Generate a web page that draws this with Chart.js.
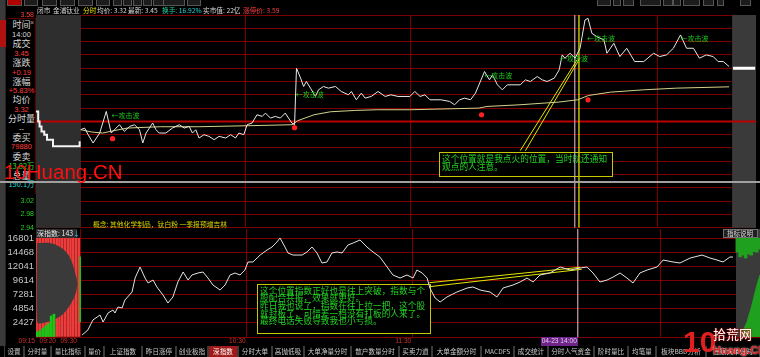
<!DOCTYPE html>
<html><head><meta charset="utf-8">
<script src="https://cdn.jsdelivr.net/npm/chart.js@4.4.1/dist/chart.umd.min.js"></script>
<style>
*{box-sizing:border-box;}
html,body{margin:0;padding:0;background:#000;}
body{position:relative;width:760px;height:357px;overflow:hidden;font-family:"Liberation Sans","Noto Sans CJK SC",sans-serif;color:#d0d0d0;}
canvas{position:absolute;left:0;}
.a{position:absolute;white-space:nowrap;line-height:1;}
.cjk{font-family:"Noto Sans CJK SC",sans-serif;}
.h{position:absolute;top:7px;font-size:6.7px;white-space:nowrap;line-height:1;font-family:"Noto Sans CJK SC",sans-serif;color:#d8d8d8;}
.row{position:absolute;left:7px;width:29px;text-align:center;white-space:nowrap;line-height:1;}
.tab{position:absolute;top:346px;height:11px;font-size:6.6px;line-height:11px;text-align:center;color:#c8c8c8;border-left:1px solid #3a3a3a;border-right:1px solid #3a3a3a;font-family:"Noto Sans CJK SC",sans-serif;white-space:nowrap;overflow:hidden;}
.ttab{position:absolute;top:0;height:6px;background:#1c1c1c;border:1px solid #555;border-top:none;overflow:hidden;}
</style></head>
<body>
<canvas id="c1" width="760" height="234" style="top:0"></canvas>
<canvas id="c2" width="760" height="124" style="top:221px"></canvas>

<div id="ttabs"></div>
<div class="h" style="left:37px">闭市</div>
<div class="h" style="left:53px">金浦钛业</div>
<div class="h" style="left:83px;color:#e0e000">分时</div>
<div class="h" style="left:97px">均价: 3.32</div>
<div class="h" style="left:128px">最新: 3.45</div>
<div class="h" style="left:162px;color:#20d0a0">换手: <span style="color:#20d0d0">16.92%</span></div>
<div class="h" style="left:203px">实市值: 22亿</div>
<div class="h" style="left:243px;color:#ff4040">涨停价: 3.59</div>

<div class="a" style="left:0;top:0;width:6px;height:346px;background:#3a3a3a;border-right:1px solid #222"></div>
<div class="a" style="left:0;top:20px;width:6px;height:27px;background:#b01010"></div>

<div class="a" style="left:7px;top:18px;width:29px;height:176px;background:#000;border-top:1px solid #5a0000;border-right:1px solid #5a0000"></div>
<div class="a" style="left:30px;top:19px;font-size:7px;color:#aaa">×</div>
<div class="row cjk" style="top:20px;font-size:9px;color:#d8d8d8">时间</div>
<div class="row" style="top:31px;font-size:7.5px;color:#d8d8d8">14:00</div>
<div class="row cjk" style="top:39px;font-size:9px;color:#d8d8d8">成交</div>
<div class="row" style="top:50px;font-size:7.5px;color:#ff3c3c">3.45</div>
<div class="row cjk" style="top:58px;font-size:9px;color:#d8d8d8">涨跌</div>
<div class="row" style="top:69px;font-size:7.5px;color:#ff3c3c">+0.19</div>
<div class="row cjk" style="top:77px;font-size:9px;color:#d8d8d8">涨幅</div>
<div class="row" style="top:87px;font-size:7.5px;color:#ff3c3c">+5.83%</div>
<div class="row cjk" style="top:95px;font-size:9px;color:#d8d8d8">均价</div>
<div class="row" style="top:106px;font-size:7.5px;color:#ff3c3c">3.32</div>
<div class="row cjk" style="top:114px;font-size:9px;color:#d8d8d8">分时量</div>
<div class="row" style="top:125px;font-size:7.5px;color:#d8d8d8">--</div>
<div class="row cjk" style="top:133px;font-size:9px;color:#d8d8d8">委买</div>
<div class="row" style="top:143px;font-size:7.5px;color:#ff3c3c">79880</div>
<div class="row cjk" style="top:152px;font-size:9px;color:#d8d8d8">委卖</div>
<div class="row cjk" style="top:162px;font-size:7.5px;color:#20e020">13.82万</div>
<div class="row cjk" style="top:171px;font-size:9px;color:#d8d8d8">总量</div>
<div class="row cjk" style="top:180px;font-size:7.5px;color:#20d0d0">190.1万</div>

<div class="a" style="left:0;top:181px;width:760px;height:2px;background:#a0a0a0"></div>
<div class="a" style="left:4px;top:162px;font-size:20.5px;color:#ff1010;font-family:'Liberation Sans'">10Huang.CN</div>

<div class="a cjk" style="left:93px;top:220.5px;font-size:6.8px;color:#d4d400">概念: 其他化学制品，钛白粉 一季报预增吉林</div>
<div class="a" style="left:36px;top:229px;width:41px;height:9px;background:#2c2c2c"></div>
<div class="a cjk" style="left:37px;top:230px;font-size:7px;color:#e8e8e8">深指数: 143<span style="color:#40c0ff">↓</span></div>
<div class="a" style="left:723px;top:229px;width:35px;height:9px;background:#202020;border:1px solid #707070"></div>
<div class="a cjk" style="left:727px;top:230px;font-size:6.5px;color:#dddddd">指标说明</div>

<div id="tlabels"></div>
<div id="btabs"></div>

<div class="a" style="left:683px;top:325px;font:bold 30px 'Liberation Sans';color:#e02020">10</div>
<div class="a cjk" style="left:713px;top:327px;font-size:13px;color:#fff;text-shadow:0 0 2px #c00,0 0 1px #c00">拾荒网</div>
<div class="a" style="left:713px;top:344px;font:bold 11px 'Liberation Sans';color:#e02020;text-shadow:0 0 2px #fff">Huang.CN</div>

<script>
// ---------- data ----------
const prevClose = 3.26;
const priceMin = 2.94, priceMax = 3.58;
const priceTicks = [2.94,2.98,3.02,3.06,3.10,3.14,3.18,3.22,3.26,3.30,3.34,3.38,3.42,3.46,3.50,3.54,3.58];
const gridMinutes = [0,60,120,180,210];
const xMin = -16.3, xMax = 246, closeMinute = 237.3;

const auctionMinutes = [-16.3,-15.5,-15,-14.3,-13.3,-12.3,-10.1,-1.1,-0.4];
const auctionPrices  = [3.29,3.26,3.245,3.23,3.22,3.205,3.185,3.185,3.2];

const priceMinutes = [0,1.4,2.7,4.5,6.9,9.3,11.1,12.9,14.1,15.9,17.8,19.6,21.4,22.6,23.8,25,26.2,27.4,28.6,31,33.4,35.9,37.7,39.5,40.7,41.9,43.1,44.9,46.7,48.6,50.4,52.8,54.6,56.4,57.6,59.4,60.6,62.4,64.2,66.1,67.3,69.1,70.9,72.7,74.5,76.9,77.9,78.6,80.1,81.2,82.2,83.7,85.5,86.6,88.4,90.2,92.8,94.9,97.5,98.6,100.4,102.2,103.6,105.8,108.3,110.9,113,115.6,119.9,121.7,123.6,125.4,127.2,131.2,134.4,136.2,138,139.9,142,143.8,147.1,148.9,150,151.8,153.6,155.4,160.1,162,163.8,166.3,168.1,169.9,172.5,174.3,175.4,176.4,178.3,180.1,181.9,183.7,184.8,186.2,188,190.6,191.7,194.2,196.4,198.9,201.8,205.1,208.7,210.9,213.4,215.9,218.5,220.7,223.2,225.4,227.9,230.4,232.2,234.1,236.2];
const prices = [3.235,3.24,3.22,3.195,3.225,3.29,3.225,3.24,3.25,3.23,3.245,3.25,3.235,3.195,3.225,3.24,3.255,3.235,3.225,3.225,3.24,3.25,3.24,3.245,3.225,3.235,3.21,3.22,3.215,3.205,3.215,3.21,3.22,3.21,3.225,3.22,3.25,3.255,3.28,3.275,3.285,3.27,3.275,3.27,3.285,3.255,3.25,3.42,3.39,3.365,3.38,3.36,3.335,3.355,3.365,3.36,3.365,3.35,3.34,3.35,3.325,3.345,3.33,3.335,3.35,3.335,3.34,3.335,3.335,3.35,3.335,3.34,3.325,3.325,3.32,3.31,3.325,3.33,3.325,3.345,3.41,3.385,3.4,3.37,3.355,3.37,3.37,3.385,3.38,3.395,3.385,3.38,3.39,3.415,3.46,3.45,3.465,3.45,3.48,3.565,3.57,3.525,3.515,3.505,3.465,3.495,3.455,3.48,3.44,3.44,3.465,3.455,3.46,3.48,3.52,3.48,3.48,3.45,3.46,3.455,3.44,3.44,3.425];

const avgMinutes = [0,4,8,12,17,29,43,61,77,79,85,91,100,108,120,145,148,160,174,181,185,193,205,217,236.2];
const avgPrices  = [3.235,3.228,3.225,3.232,3.24,3.244,3.244,3.247,3.25,3.262,3.28,3.289,3.293,3.295,3.295,3.30,3.305,3.31,3.318,3.325,3.338,3.348,3.355,3.36,3.364];

const signalMinutes = [11.6,77.9,146,184.8];
const signalPrices  = [3.208,3.241,3.28,3.325];
const waveMinutes = [11.2,78.3,147,174.6,184.4,218.5];
const wavePrices  = [3.277,3.34,3.40,3.451,3.511,3.511];
const waveText = '←攻击波';
const lastPrice = 3.42;
const cursorMinute = 180, markMinute = 181.5;
const guideTopA = {m:[160.1,180.8], p:[3.172,3.445]};
const guideTopB = {m:[162.0,181.9], p:[3.172,3.451]};

// index panel
const idxMax = 18460;
const idxTicks = [0,2427,4854,7281,9614,12041,14468,16801];
const idxMinutes = [0.4,2.5,4.3,6.9,8,9.8,11.6,12.3,13.4,14.9,15.9,18.5,19.6,21.4,23.2,24.3,26.1,27.5,29.7,31.5,33.3,35.1,37,38.8,40.2,42.4,44.2,46,47.8,50.4,52.2,54,55.8,57.6,59.4,60.5,62.3,64.9,67.4,69.2,71,72.1,73.9,75,76.8,80.1,81.9,83.7,85.5,87.3,89.1,90.9,92.8,94.6,96.7,98.6,101.1,103.6,105.8,108.3,110.9,113,115.6,118.1,120.3,121.7,123.6,125.4,126.4,128.3,130.1,132.6,136.2,139.9,142,144.6,148.2,150.7,152.9,156.5,159.1,161.6,163.8,166.3,169.9,173.6,177.2,180.8,183.3,185.5,188,190.6,192.8,195.3,197.8,200,202.5,205.1,208.7,210.9,214.5,217,220.7,225,227.9,230.4,232.6,235.1,236.2];
const idxValues = [340,1200,2900,3760,2560,4100,4610,4100,5130,4960,6320,7690,10080,11960,10080,9230,9740,8550,7180,5810,6840,9400,11110,9740,10600,10940,11110,10080,8890,8030,8890,10600,10940,10600,11450,12820,12820,14010,14870,15380,16240,16920,15380,14360,14010,14010,14530,15380,14360,12650,12820,14360,14530,14360,15720,16070,16580,15380,14530,13670,11960,10600,10080,10600,10080,11450,10940,10080,8370,6670,5980,6840,7690,8370,8550,8030,7690,6840,8370,8890,9400,10080,9400,10600,10940,11960,11450,11790,11960,10940,9400,9740,10250,10940,10080,9230,10940,11450,11960,13160,12820,12650,13500,14010,13500,13160,12820,13670,13670];

const auctionBarMinutes = [-15.8,-14.8,-13.8,-12.8,-11.8,-10.8,-9.8,-8.8,-7.8,-6.8,-5.8,-4.8,-3.8,-2.8,-1.8,-0.8];
const auctionBarValues  = [16900,16900,16900,16900,16900,16900,16900,16900,16900,16900,16900,16900,16900,16900,16900,16900];
const auctionGreenMinutes = [-15.8,-14.8,-13.8,-12.8,-11.8,-10.8,-9.8];
const auctionGreenValues  = [900,1100,1500,1900,2300,3600,3900];
const auctionGreenLine = {m:-0.3, lo:2560, hi:13700};
const auctionShapeMinutes = [-15.9,-11.2,-7.6,-5.1,-3.3,-2.2,-1.4,-1.8,-2.9,-4.7,-6.9,-9.4,-12.3,-15.9,-15.9];
const auctionShapeValues  = [16065,16065,15381,14356,12818,11109,9400,7690,6323,4956,3760,3076,2564,2564,16065];

const closeBarMinutes = [237.8,238.8,239.8,240.8,241.8,242.8,243.8,244.8,245.6];
const closeBarLows    = [14500,13700,14000,13500,14200,14000,14600,14500,15000];
const closeBarHigh = 16900;
const closeAreaMinutes = [239.5,241.3,243.1,244.9,246];
const closeAreaValues  = [680,2560,5470,8890,10600];
const guideBotA = {m:[126.2,180.8], v:[9280,11912]};
const guideBotB = {m:[126.2,181.4], v:[8596,11570]};

const timeTickLabels  = ['09:15','09:20','09:30','10:30','11:30','04-23 14:00'];
const timeTickMinutes = [-16.3,-8.7,-1.1,60,120,180];

// ---------- helpers ----------
const pts = (xs, ys) => xs.map((x, i) => ({x, y: ys[i]}));
const GRID = 'rgb(125,0,0)';
const noAnim = {animation:false, responsive:false, maintainAspectRatio:false, devicePixelRatio:1,
  plugins:{legend:{display:false}, tooltip:{enabled:false}}};

function bgPlugin(rightColor, leftColor, boxes, labels) {
  return {
    id:'bg',
    beforeDatasetsDraw(chart){
      const {ctx, chartArea:a, scales:{x}} = chart;
      ctx.save();
      if (leftColor) { const x1 = x.getPixelForValue(0); ctx.fillStyle = leftColor; ctx.fillRect(a.left, a.top, x1 - a.left, a.bottom - a.top); }
      const xr = x.getPixelForValue(closeMinute);
      ctx.fillStyle = rightColor; ctx.fillRect(xr, a.top, a.right - xr, a.bottom - a.top);
      boxes.forEach(b => {
        ctx.fillStyle = '#000'; ctx.fillRect(b.x, b.y, b.w, b.h);
        ctx.strokeStyle = '#c8c800'; ctx.lineWidth = 1; ctx.strokeRect(b.x + 0.5, b.y + 0.5, b.w - 1, b.h - 1);
        ctx.fillStyle = '#22d422'; ctx.font = '8.7px "Noto Sans CJK SC"'; ctx.textBaseline = 'middle'; ctx.textAlign = 'left';
        b.lines.forEach((t, i) => ctx.fillText(t, b.x + 3, b.y + b.t0 + i * b.lh));
      });
      ctx.restore();
    },
    afterDatasetsDraw(chart){
      if (!labels) return;
      const {ctx, scales:{x, y}} = chart;
      ctx.save();
      ctx.font = '7px "Noto Sans CJK SC"'; ctx.fillStyle = '#1ec81e'; ctx.textBaseline = 'middle'; ctx.textAlign = 'left';
      waveMinutes.forEach((m, i) => ctx.fillText(waveText, x.getPixelForValue(m), y.getPixelForValue(wavePrices[i])));
      ctx.restore();
    }
  };
}

const makeX = () => ({type:'linear', min:xMin, max:xMax, offset:false,
  afterBuildTicks: s => { s.ticks = gridMinutes.map(v => ({value:v})); },
  ticks:{display:false}, grid:{color:GRID, drawTicks:false, offset:false}, border:{display:false}});

// ---------- price chart ----------
new Chart(document.getElementById('c1'), {
  type:'line',
  data:{datasets:[
    {data:pts(signalMinutes, signalPrices), showLine:false, pointRadius:2.6, pointBackgroundColor:'#ff2020', pointBorderWidth:0, order:0},
    {data:pts(priceMinutes, prices), borderColor:'#e8e8e8', borderWidth:1, pointRadius:0, order:1},
    {data:pts(avgMinutes, avgPrices), borderColor:'#d2d28c', borderWidth:1, pointRadius:0, order:2},
    {data:pts(auctionMinutes, auctionPrices), borderColor:'#f4f4f4', borderWidth:2, stepped:true, pointRadius:0, order:3},
    {data:pts(guideTopA.m, guideTopA.p), borderColor:'#e6e600', borderWidth:1, pointRadius:0, order:4},
    {data:pts(guideTopB.m, guideTopB.p), borderColor:'#e6e600', borderWidth:1, pointRadius:0, order:4},
    {data:pts([cursorMinute, cursorMinute], [priceMin, priceMax]), borderColor:'#c8c8d8', borderWidth:1, pointRadius:0, order:5},
    {data:pts([markMinute, markMinute], [priceMin, priceMax]), borderColor:'#c0c000', borderWidth:1.5, pointRadius:0, order:5},
    {data:pts([closeMinute + 0.3, xMax - 0.3], [lastPrice, lastPrice]), borderColor:'#ffffff', borderWidth:3, pointRadius:0, order:6},
    {data:pts([xMin, xMax], [prevClose, prevClose]), borderColor:'rgb(185,0,0)', borderWidth:2, pointRadius:0, order:7}
  ]},
  options:Object.assign({}, noAnim, {
    layout:{padding:{left:0, right:0, top:15, bottom:5.7}},
    scales:{
      x:makeX(),
      y:{type:'linear', min:priceMin, max:priceMax,
        afterBuildTicks: s => { s.ticks = priceTicks.map(v => ({value:v})); },
        afterFit: s => { s.width = 36; },
        grid:{color:GRID, drawTicks:false}, border:{display:false},
        ticks:{padding:2, font:{size:7, family:'Liberation Sans'}, callback: v => Number(v).toFixed(2),
          color: c => c.tick.value > prevClose + 1e-6 ? '#ff3c3c' : (c.tick.value < prevClose - 1e-6 ? '#20d020' : '#cccccc')}}
    }
  }),
  plugins:[bgPlugin('#3a3a3a', '#2e2e2e', [
    {x:439, y:152, w:174, h:25, t0:7, lh:7.6, lines:['这个位置就是我点火的位置，当时就还通知','观点的人注意。']}
  ], true)]
});

// ---------- index chart ----------
const c2 = new Chart(document.getElementById('c2'), {
  type:'line',
  data:{datasets:[
    {data:pts(idxMinutes, idxValues), borderColor:'#e4e4e4', borderWidth:1, pointRadius:0, order:0},
    {data:pts(guideBotA.m, guideBotA.v), borderColor:'#e6e600', borderWidth:1, pointRadius:0, order:1},
    {data:pts(guideBotB.m, guideBotB.v), borderColor:'#e6e600', borderWidth:1, pointRadius:0, order:1},
    {data:pts([cursorMinute, cursorMinute], [0, idxMax]), borderColor:'#c8c8d8', borderWidth:1, pointRadius:0, order:2},
    {type:'bar', data:closeBarMinutes.map((m, i) => ({x:m, y:[closeBarLows[i], closeBarHigh]})), backgroundColor:'#1fa01f', barThickness:3, grouped:false, order:3},
    {data:pts(closeAreaMinutes, closeAreaValues), borderColor:'#1fa01f', backgroundColor:'#1fa01f', fill:'origin', borderWidth:1, pointRadius:0, order:4},
    {type:'bar', data:[{x:auctionGreenLine.m, y:[auctionGreenLine.lo, auctionGreenLine.hi]}], backgroundColor:'#20c020', barThickness:1, grouped:false, order:5},
    {type:'bar', data:pts(auctionGreenMinutes, auctionGreenValues), backgroundColor:'#18c818', barThickness:2, grouped:false, order:6},
    {data:pts(auctionShapeMinutes, auctionShapeValues), borderWidth:0, borderColor:'#3a3a3a', backgroundColor:'#3a3a3a', fill:'shape', pointRadius:0, tension:0.35, order:7},
    {type:'bar', data:pts(auctionBarMinutes, auctionBarValues), backgroundColor:'#ee3c3c', barThickness:2, grouped:false, order:8}
  ]},
  options:Object.assign({}, noAnim, {
    layout:{padding:{left:0, right:0, top:8, bottom:8}},
    scales:{
      x:makeX(),
      y:{type:'linear', min:0, max:idxMax,
        afterBuildTicks: s => { s.ticks = idxTicks.map(v => ({value:v})); },
        afterFit: s => { s.width = 36; },
        grid:{color:GRID, drawTicks:false}, border:{display:false},
        ticks:{padding:2, color:'#c8c8c8', font:{size:9.5, family:'Liberation Sans'}, callback: v => v === 0 ? '' : String(v)}}
    }
  }),
  plugins:[bgPlugin('#3a3a3a', null, [
    {x:257, y:284 - 221, w:174, h:50, t0:6.5, lh:7.6, lines:['这个位置指数正好也是往上突破，指数与个','股配合共振，效果就更好。','昨日我也说了，指数在往上拉一把，这个股','就封板了，可惜差一档没有打板的人来了。','最终电话失败导致我也小亏损。']}
  ], false)]
});

// ---------- time labels ----------
(function(){
  const host = document.getElementById('tlabels');
  const xs = c2.scales.x;
  timeTickLabels.forEach((t, i) => {
    const px = xs.getPixelForValue(timeTickMinutes[i]);
    const d = document.createElement('div');
    d.className = 'a';
    d.textContent = t;
    d.style.fontSize = '6.6px';
    d.style.top = '338px';
    d.style.right = (760 - px + 1) + 'px';
    if (t.indexOf('-') > 0) { d.style.background = '#6e2488'; d.style.color = '#e8c8f0'; d.style.padding = '1px 1px'; d.style.top = '337px'; d.style.right = (760 - px) + 'px'; }
    else d.style.color = '#d03030';
    host.appendChild(d);
  });
})();

// ---------- tabs ----------
(function(){
  const tabs = [['设置',4,20],['分时量',24,27],['量比指标',51,34],['量价',85,19],['上证指数',104,38],['昨日涨停',142,34],['创业板指',176,32],['深指数',208,30],['分时大单',238,34],['高抛低吸',272,32],['大单净量分时',304,47],['散户数量分时',351,48],['买卖力道',399,33],['大单金额分时',432,49],['MACDFS',481,33],['成交统计',514,34],['分时人气资金',548,46],['阶时量比',594,34],['均笔量',628,28],['板块BBD分析',656,50],['庄家大单分时',706,54]];
  const host = document.getElementById('btabs');
  tabs.forEach(([t, x, w]) => {
    const d = document.createElement('div');
    d.className = 'tab'; d.textContent = t;
    d.style.left = x + 'px'; d.style.width = w + 'px';
    if (t === '深指数') { d.style.background = '#a01818'; d.style.color = '#fff'; }
    host.appendChild(d);
  });
  const top = [[7,15,'#b00000'],[24,14],[42,15],[60,15],[78,15],[96,14],[113,9],[123,9],[133,9],[143,9],[153,14],[163,22],[187,14],[597,14],[613,8],[623,11],[640,21],[663,10],[673,8],[683,17],[703,11],[717,7],[740,11]];
  const th = document.getElementById('ttabs');
  top.forEach(([x, w, c]) => {
    const d = document.createElement('div');
    d.className = 'ttab'; d.style.left = x + 'px'; d.style.width = w + 'px';
    if (c) d.style.background = c;
    th.appendChild(d);
  });
})();
</script>
</body></html>
